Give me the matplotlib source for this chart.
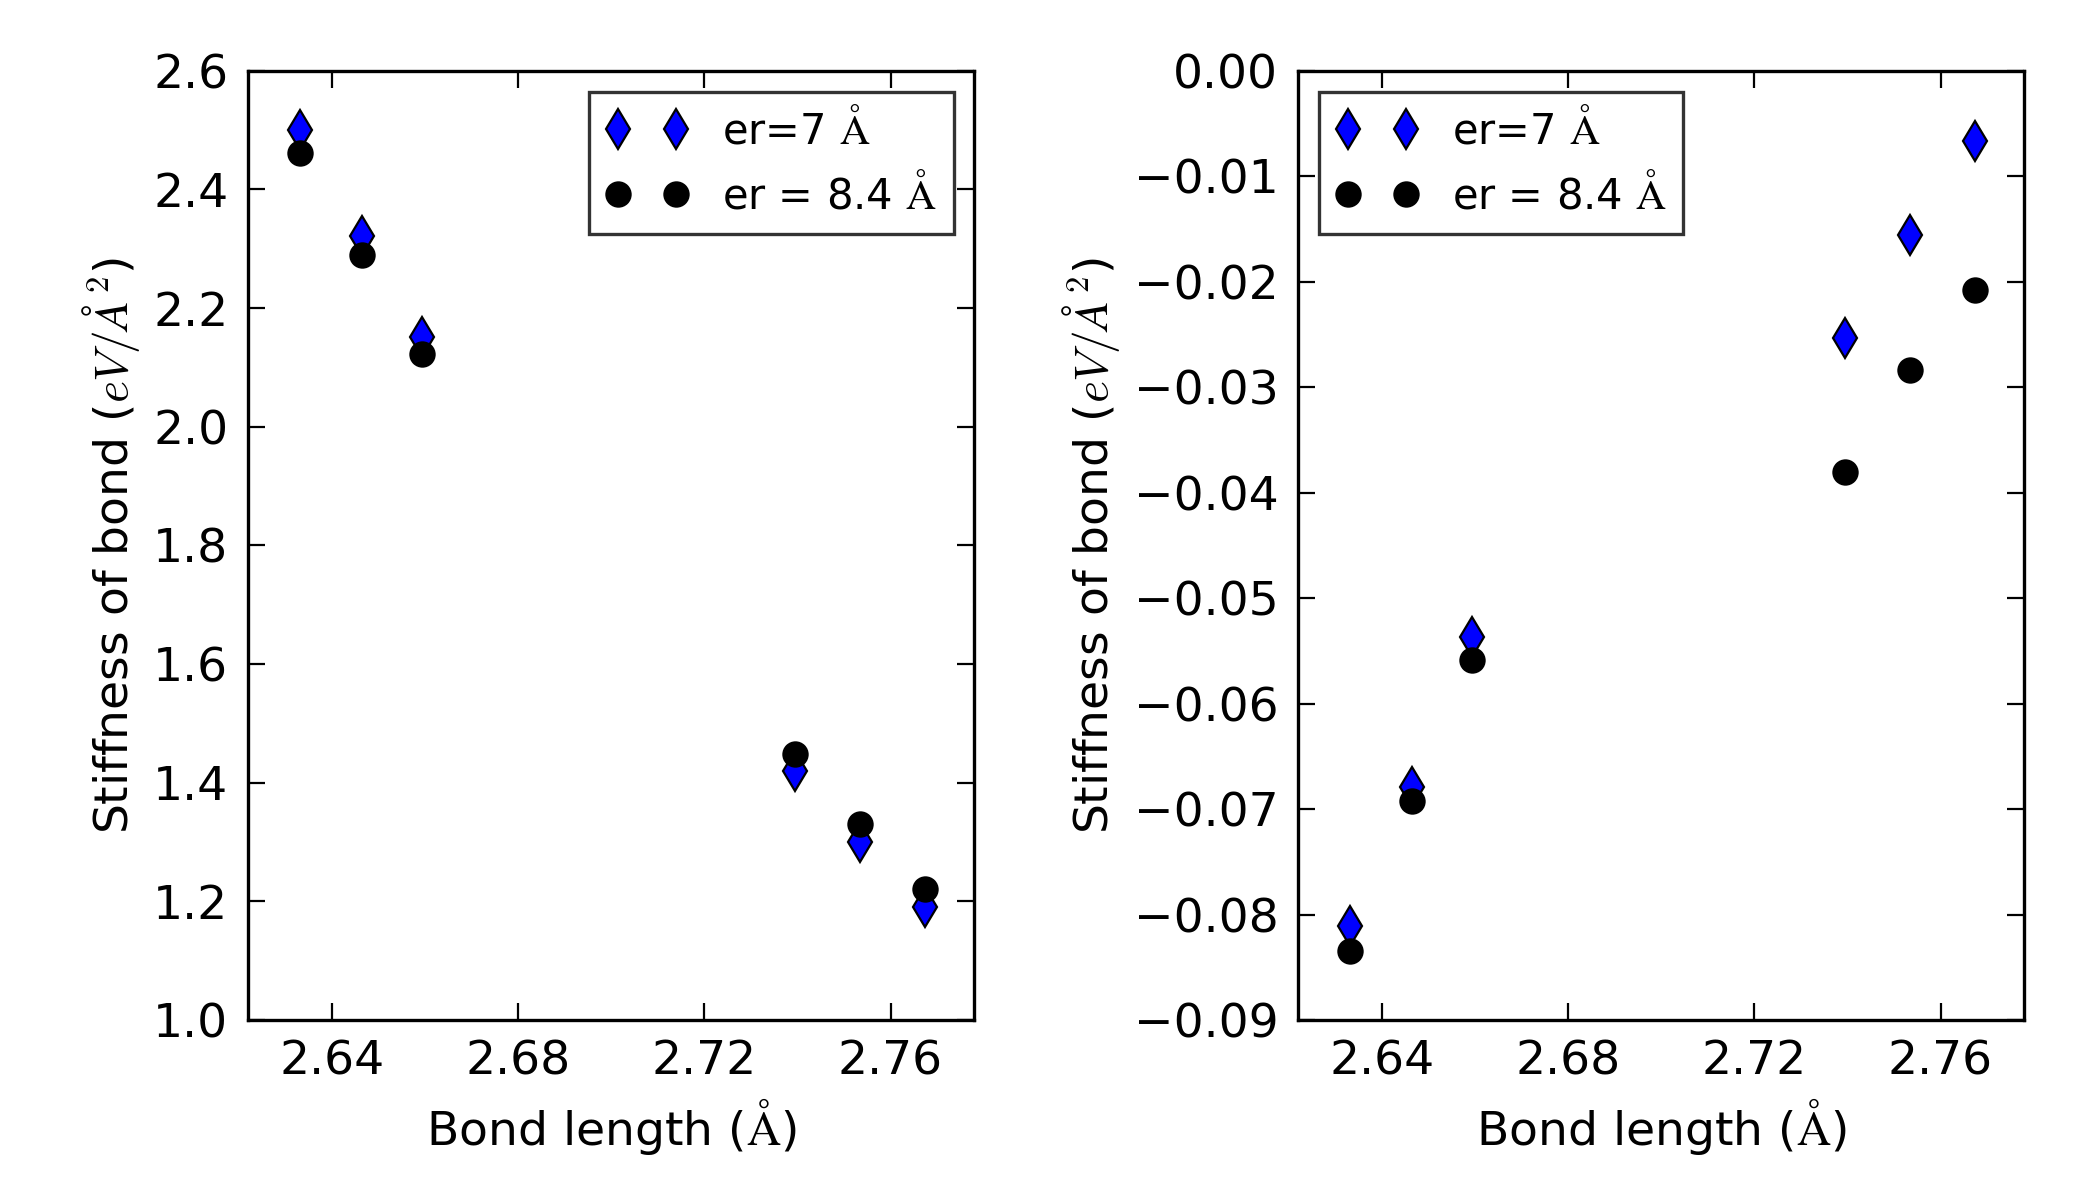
import matplotlib
matplotlib.use("Agg")
import matplotlib.pyplot as plt

bond = [2.6333, 2.6465, 2.6594, 2.7395, 2.7535, 2.7673]
stiff7_a = [2.501, 2.322, 2.152, 1.42, 1.30, 1.19]
stiff84_a = [2.462, 2.29, 2.122, 1.448, 1.331, 1.221]
stiff7_b = [-0.0811, -0.0679, -0.0537, -0.0253, -0.0156, -0.0067]
stiff84_b = [-0.0835, -0.0692, -0.0559, -0.038, -0.0284, -0.0208]

plt.rcParams['font.family'] = 'DejaVu Sans'
plt.rcParams['font.size'] = 17
plt.rcParams['xtick.direction'] = 'in'
plt.rcParams['ytick.direction'] = 'in'
plt.rcParams['xtick.top'] = True
plt.rcParams['ytick.right'] = True
plt.rcParams['xtick.major.size'] = 6
plt.rcParams['ytick.major.size'] = 6
plt.rcParams['xtick.major.pad'] = 7
plt.rcParams['ytick.major.pad'] = 7
plt.rcParams['mathtext.fontset'] = 'cm'

fig = plt.figure(figsize=(10.5, 6), dpi=200)
ax1 = fig.add_axes([0.118, 0.15, 0.346, 0.791])
ax2 = fig.add_axes([0.618, 0.15, 0.346, 0.791])

for ax, s7, s84, ylim, loc in [(ax1, stiff7_a, stiff84_a, (1.0, 2.6), 'upper right'),
                               (ax2, stiff7_b, stiff84_b, (-0.09, 0.0), 'upper left')]:
    ax.plot(bond, s7, 'd', color='blue', mec='black', mew=0.8, ms=10, label=r'er=7 $\mathrm{\AA}$')
    ax.plot(bond, s84, 'o', color='black', ms=8.5, label=r'er = 8.4 $\mathrm{\AA}$')
    ax.set_xlim(2.622, 2.778)
    ax.set_ylim(*ylim)
    ax.set_xticks([2.64, 2.68, 2.72, 2.76])
    ax.set_xlabel(r'Bond length ($\mathrm{\AA}$)')
    ax.set_ylabel(r'Stiffness of bond ($eV/\AA^2$)')
    for sp in ax.spines.values():
        sp.set_linewidth(1.2)
    leg = ax.legend(loc=loc, numpoints=2, fancybox=False, fontsize=15)
    leg.get_frame().set_edgecolor('black')
    leg.get_frame().set_linewidth(1.2)

ax2.set_yticks([-0.09, -0.08, -0.07, -0.06, -0.05, -0.04, -0.03, -0.02, -0.01, 0.0])
ax2.set_yticklabels(['\u22120.09', '\u22120.08', '\u22120.07', '\u22120.06', '\u22120.05',
                     '\u22120.04', '\u22120.03', '\u22120.02', '\u22120.01', '0.00'])

fig.savefig('out.png')
